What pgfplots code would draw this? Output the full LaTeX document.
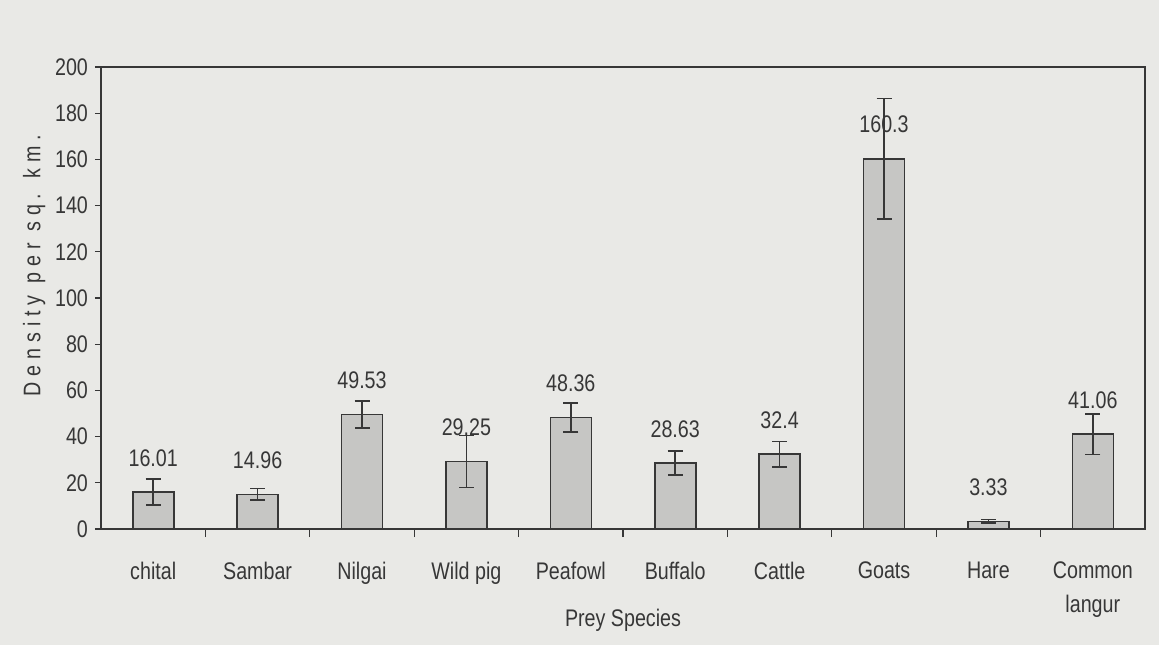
\documentclass[border=0pt]{standalone}
\usepackage{pgfplots}
\pgfplotsset{compat=1.18}
\usepackage{pgfplotstable}
\usepackage{fontspec}
\setmainfont{Liberation Sans}[FakeStretch=0.82]
\newfontfamily\ylabfont{Liberation Sans}[FakeStretch=0.82,LetterSpace=25]
\definecolor{bg}{RGB}{233,233,230}
\definecolor{barfill}{RGB}{198,198,196}
\definecolor{ink}{RGB}{55,55,55}
\pgfplotstableread{
x y e lab
0 16.01 5.6 16.01
1 14.96 2.5 14.96
2 49.53 5.9 49.53
3 29.25 11.3 29.25
4 48.36 6.3 48.36
5 28.63 5.2 28.63
6 32.4 5.5 32.4
7 160.3 26 160.3
8 3.33 0.8 3.33
9 41.06 8.8 41.06
}\prey
\begin{document}
\begin{tikzpicture}
\fill[bg] (-50.5pt,-58pt) rectangle (529pt,264.5pt);
\begin{axis}[
  at={(0,0)}, anchor=south west,
  scale only axis, width=522pt, height=231pt,
  xmin=-0.5, xmax=9.5, ymin=0, ymax=200,
  ytick={0,20,...,200},
  xtick={0,...,9},
  xticklabels={chital,Sambar,Nilgai,Wild pig,Peafowl,Buffalo,Cattle,Goats,Hare,{Common\\langur}},
  xticklabel style={align=center, anchor=north, yshift=-10pt, font=\fontsize{12}{17}\selectfont},
  yticklabel style={font=\fontsize{12}{14}\selectfont},
  major x tick style={draw=none},
  extra x ticks={0.5,1.5,...,8.5},
  extra x tick labels={},
  extra x tick style={major tick length=4pt, tick align=outside, xtick pos=bottom, major x tick style={draw=ink}},
  tick align=outside, ytick pos=left, xtick pos=bottom,
  major tick length=3pt,
  axis line style={draw=ink, line width=0.8pt},
  tick style={draw=ink, line width=0.6pt},
  /pgf/number format/assume math mode=true,
  ylabel={\ylabfont Density per sq. km.},
  ylabel style={at={(axis description cs:-0.064,0.57)}, anchor=center, rotate=0, font=\fontsize{12}{14}\selectfont},
  xlabel={Prey Species},
  xlabel style={at={(axis description cs:0.5,-0.197)}, anchor=center, font=\fontsize{12}{14}\selectfont},
  every tick label/.append style={text=ink},
  label style={text=ink},
]
\addplot[ybar, bar width=20.5pt, fill=barfill, draw=ink, line width=0.8pt,
  error bars/.cd, y dir=both, y explicit,
  error bar style={draw=ink, line width=0.8pt},
  error mark options={draw=ink, line width=0.8pt, mark size=3.75pt, rotate=90}]
  table[x=x, y=y, y error=e] {\prey};
\addplot[only marks, mark=none, point meta=explicit symbolic,
  nodes near coords, nodes near coords style={anchor=center, yshift=17pt, text=ink, font=\fontsize{12}{14}\selectfont}]
  table[x=x, y=y, meta=lab] {\prey};
\end{axis}
\end{tikzpicture}
\end{document}
